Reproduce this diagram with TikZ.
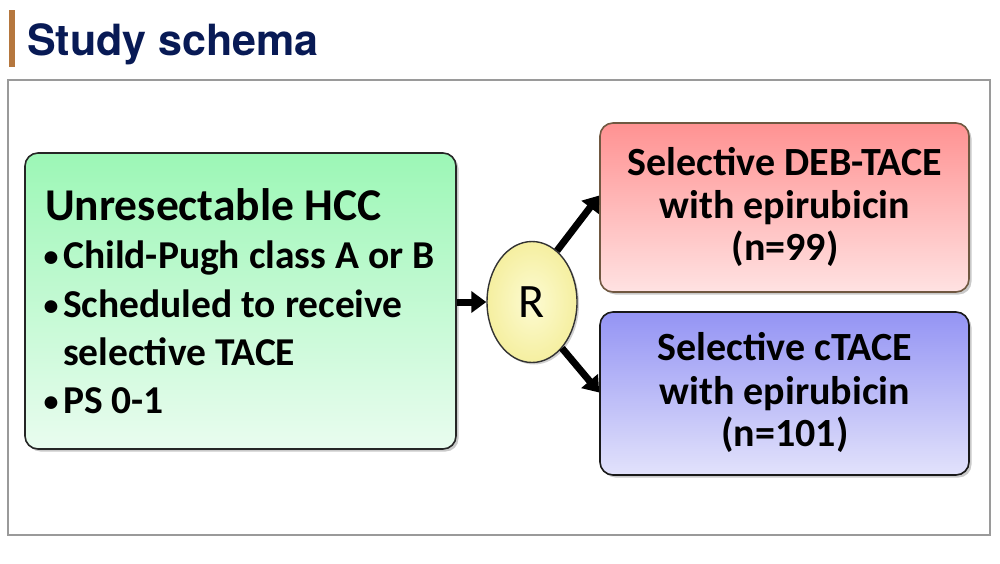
\documentclass[tikz,border=0pt]{standalone}
\usepackage{fontspec}
\setmainfont{Carlito}
\newfontfamily\titlefont{TeX Gyre Heros}
\usetikzlibrary{shapes.geometric,arrows.meta,shadows,calc}
\definecolor{navy}{HTML}{081A55}
\definecolor{barbrown}{HTML}{B5773E}
\definecolor{framegray}{HTML}{9A9A9A}
\definecolor{gtop}{HTML}{9CF7B6}
\definecolor{gbot}{HTML}{E9FCEF}
\definecolor{rtop}{HTML}{FF9292}
\definecolor{rbot}{HTML}{FFE2E2}
\definecolor{btop}{HTML}{9494F4}
\definecolor{bbot}{HTML}{E2E2FB}
\definecolor{ytop}{HTML}{FBF8B4}
\definecolor{ybot}{HTML}{F5EFA0}
\tikzset{
  boxbase/.style={rectangle, rounded corners=13pt, line width=1.6pt, inner sep=0pt,
    drop shadow={shadow xshift=2.5pt, shadow yshift=-2.5pt, opacity=0.35, fill=black!60}},
  greenbox/.style={boxbase, draw=black!85, top color=gtop, bottom color=gbot,
    minimum width=431pt, minimum height=296pt},
  redbox/.style={boxbase, draw=black!80!yellow!80!red, top color=rtop, bottom color=rbot,
    minimum width=369pt, minimum height=169pt},
  bluebox/.style={boxbase, draw=black!90, top color=btop, bottom color=bbot,
    minimum width=369pt, minimum height=163pt},
  rnode/.style={ellipse, draw=black!80, line width=1.4pt, inner sep=0pt,
    inner color=ytop!60!white, outer color=ybot, minimum width=90pt, minimum height=121pt,
    drop shadow={shadow xshift=2pt, shadow yshift=-2pt, opacity=0.3, fill=black!60},
    font=\fontsize{48}{48}\selectfont},
  arr/.style={line width=7pt, -{Triangle[length=15pt, width=21pt]}},
  headtxt/.style={anchor=base west, inner sep=0pt, font=\fontsize{45.5}{45.5}\selectfont\bfseries},
  itemtxt/.style={anchor=base west, inner sep=0pt, font=\fontsize{39.5}{39.5}\selectfont\bfseries},
  bullettxt/.style={anchor=base, inner sep=0pt, font=\fontsize{30}{30}\selectfont\bfseries},
  armtxt/.style={anchor=base, inner sep=0pt, font=\fontsize{40}{40}\selectfont\bfseries},
}
\begin{document}
\begin{tikzpicture}[x=1pt, y=-1pt]
\useasboundingbox (0,0) rectangle (1000,563);
\fill[white] (0,0) rectangle (1000,563);
% title
\fill[barbrown] (9,10) rectangle (15,67);
\node[anchor=base west, inner sep=0pt, text=navy, font=\titlefont\bfseries\fontsize{43}{43}\selectfont] (title) at (27,55) {Study schema};
% frame
\draw[framegray, line width=1.5pt] (8,80) rectangle (990,535);
% boxes
\node[greenbox] (green) at (240.5,301) {};
\node[redbox] (red) at (784.5,207.5) {};
\node[bluebox] (blue) at (784.5,393.5) {};
\node[rnode] (R) at (532,302) {R};
% green text
\node[headtxt] (g0) at (45,220) {Unresectable HCC};
\node[bullettxt] (b1) at (51,266) {•};
\node[itemtxt] (g1) at (63,268) {Child-Pugh class A or B};
\node[bullettxt] (b2) at (51,315) {•};
\node[itemtxt] (g2) at (63,317) {Scheduled to receive};
\node[itemtxt] (g3) at (63,365) {selective TACE};
\node[bullettxt] (b4) at (51,411) {•};
\node[itemtxt] (g4) at (63,413) {PS 0-1};
% red text
\node[armtxt] (r1) at (785,175) {Selective DEB-TACE};
\node[armtxt] (r2) at (785,218) {with epirubicin};
\node[armtxt] (r3) at (785,260) {(n=99)};
% blue text
\node[armtxt] (u1) at (785,360) {Selective cTACE};
\node[armtxt] (u2) at (785,404) {with epirubicin};
\node[armtxt] (u3) at (785,446) {(n=101)};
% arrows
\draw[arr] (green.east |- R.west) -- (R.west);
\draw[arr] (R.64) -- ($(red.west)+(0,-12)$);
\draw[arr] (R.-57) -- ($(blue.west)+(0,-1)$);
\end{tikzpicture}
\end{document}
